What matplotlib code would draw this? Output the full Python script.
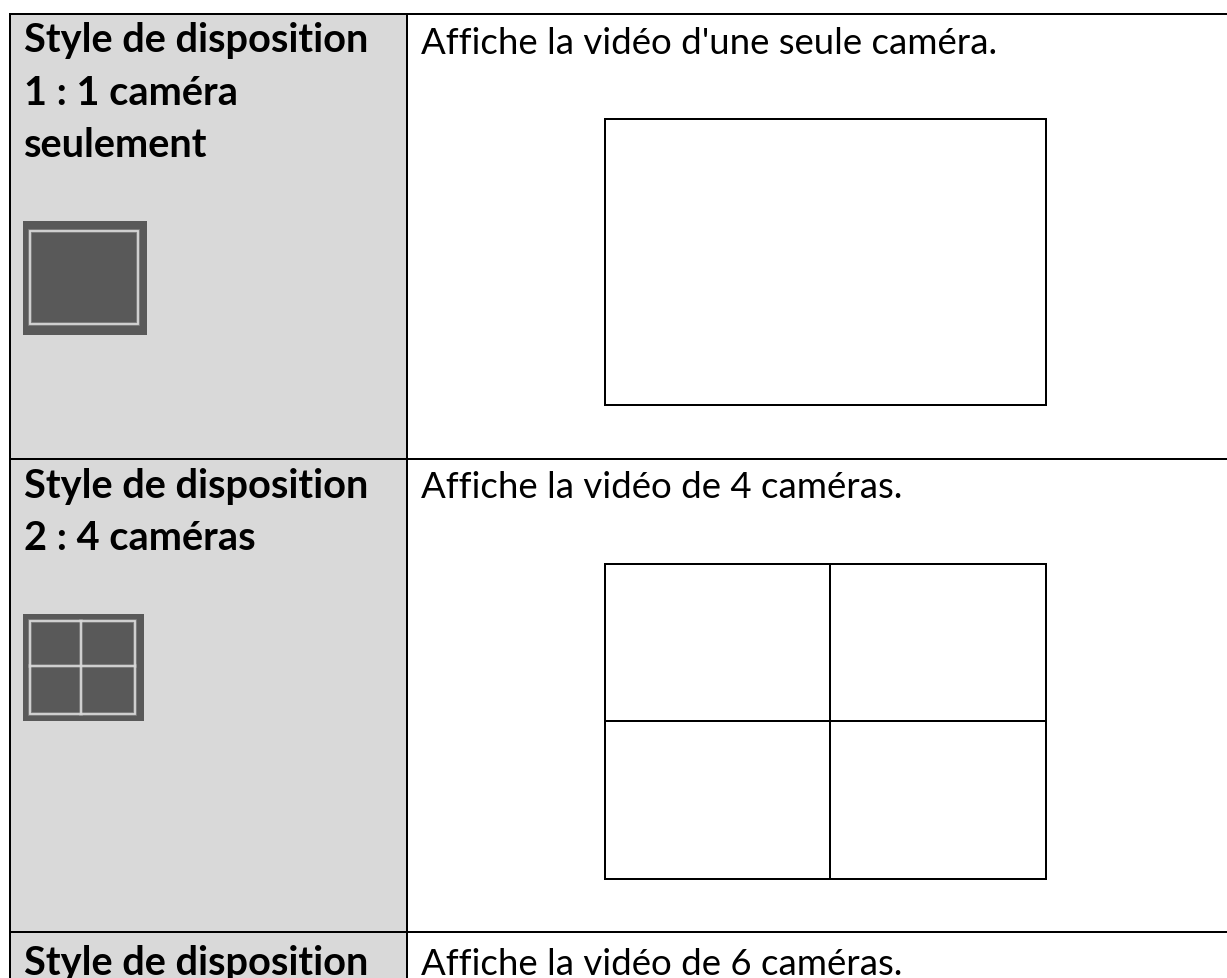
import matplotlib
matplotlib.use('Agg')
import matplotlib.pyplot as plt
from matplotlib.patches import Rectangle

W, H = 1227, 979

left_labels = ['Style de disposition', '1 : 1 caméra', 'seulement',
               'Style de disposition', '2 : 4 caméras',
               'Style de disposition']
left_baselines = [52, 105, 157, 498, 550, 975]
right_labels = ["Affiche la vidéo d'une seule caméra.",
                'Affiche la vidéo de 4 caméras.',
                'Affiche la vidéo de 6 caméras.']
right_baselines = [54, 498, 975]

FRAME_LEFT, FRAME_TOP, COL_X = 10, 14.5, 407
ROW_LINES = [14.5, 459.5, 933]
GREY = '#d9d9d9'
ICON_BG = '#595959'
ICON_LINE = '#d8d8d8'
LW = 1.44

plt.rcParams['font.family'] = ['Lato', 'DejaVu Sans']
fig = plt.figure(figsize=(W / 100, H / 100), dpi=100)
ax = fig.add_axes([0, 0, 1, 1])
ax.set_xlim(0, W)
ax.set_ylim(H, 0)
ax.axis('off')

# grey first column
ax.add_patch(Rectangle((FRAME_LEFT, FRAME_TOP), COL_X - FRAME_LEFT, H - FRAME_TOP,
                       fc=GREY, ec='none', zorder=1))

# table lines
for y in ROW_LINES:
    ax.plot([FRAME_LEFT - 1, W], [y, y], color='k', lw=LW, zorder=2, solid_capstyle='butt')
for x in [FRAME_LEFT, COL_X]:
    ax.plot([x, x], [FRAME_TOP, H], color='k', lw=LW, zorder=2, solid_capstyle='butt')

# small icons, wide faint line under a thin one for the blurry look
ax.add_patch(Rectangle((23, 222), 124, 114, fc=ICON_BG, ec='none', zorder=3))
ax.add_patch(Rectangle((23, 615), 121, 107, fc=ICON_BG, ec='none', zorder=3))
for lw, alpha, z in [(2.6, 0.35, 4), (1.3, 1, 5)]:
    ax.add_patch(Rectangle((30, 232), 108, 93, fc='none', ec=ICON_LINE, lw=lw, alpha=alpha, zorder=z))
    ax.add_patch(Rectangle((30, 622), 105, 93, fc='none', ec=ICON_LINE, lw=lw, alpha=alpha, zorder=z))
    ax.plot([81, 81], [622, 715], color=ICON_LINE, lw=lw, alpha=alpha, zorder=z)
    ax.plot([30, 135], [667, 667], color=ICON_LINE, lw=lw, alpha=alpha, zorder=z)

# big layout boxes
ax.add_patch(Rectangle((605, 119.5), 441, 286, fc='white', ec='k', lw=LW, zorder=3))
ax.add_patch(Rectangle((605, 564.5), 441, 315, fc='white', ec='k', lw=LW, zorder=3))
ax.plot([830, 830], [564.5, 879.5], color='k', lw=LW, zorder=4)
ax.plot([605, 1046], [721.5, 721.5], color='k', lw=LW, zorder=4)

for txt, y in zip(left_labels, left_baselines):
    ax.text(24, y, txt, fontsize=28.6, fontweight='bold', va='baseline', ha='left',
            color='k', zorder=6, clip_on=True)
for txt, y in zip(right_labels, right_baselines):
    ax.text(421, y, txt, fontsize=26.4, va='baseline', ha='left',
            color='k', zorder=6, clip_on=True)

fig.savefig('out.png', dpi=100)
